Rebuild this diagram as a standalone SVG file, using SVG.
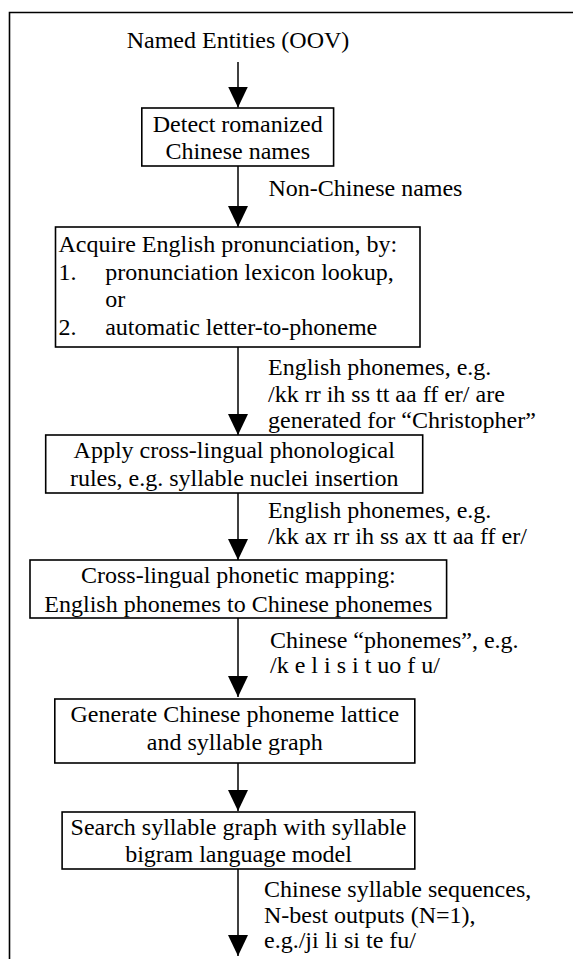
<svg xmlns="http://www.w3.org/2000/svg" width="573" height="959" viewBox="0 0 573 959">
<style>
text{font-family:"Liberation Serif","Times New Roman",serif;font-size:24px;fill:#000}
.c{text-anchor:middle}
.box{fill:#fff;stroke:#000;stroke-width:1.6}
.conn line{stroke:#000;stroke-width:1.5}
</style>
<defs>
<marker id="ah" markerUnits="userSpaceOnUse" markerWidth="21" markerHeight="20" refX="21" refY="10" orient="auto" viewBox="0 0 21 20">
<path d="M0,0 L21,10 L0,20 z" fill="#000"/>
</marker>
</defs>
<rect width="573" height="959" fill="#fff"/>
<path id="frame" d="M9.5,959 V12.5 H573" fill="none" stroke="#000" stroke-width="1.6"/>

<g class="conn">
<line x1="238" y1="62" x2="238" y2="107.5" marker-end="url(#ah)"/>
<line x1="238" y1="166" x2="238" y2="227" marker-end="url(#ah)"/>
<line x1="238" y1="347" x2="238" y2="435" marker-end="url(#ah)"/>
<line x1="238" y1="493" x2="238" y2="560" marker-end="url(#ah)"/>
<line x1="238" y1="618" x2="238" y2="697" marker-end="url(#ah)"/>
<line x1="238" y1="763" x2="238" y2="811" marker-end="url(#ah)"/>
<line x1="238" y1="869" x2="238" y2="956" marker-end="url(#ah)"/>
</g>

<g id="labels">
<text class="c" x="238" y="48">Named Entities (OOV)</text>
<text x="268.5" y="196">Non-Chinese names</text>
<text x="268" y="375">English phonemes, e.g.</text>
<text x="268" y="402">/kk rr ih ss tt aa ff er/ are</text>
<text x="268" y="428">generated for “Christopher”</text>
<text x="268" y="518">English phonemes, e.g.</text>
<text x="268" y="544">/kk ax rr ih ss ax tt aa ff er/</text>
<text x="270" y="648">Chinese “phonemes”, e.g.</text>
<text x="270" y="673">/k e l i s i t uo f u/</text>
<text x="264" y="897">Chinese syllable sequences,</text>
<text x="264" y="923">N-best outputs (N=1),</text>
<text x="264" y="948">e.g./ji li si te fu/</text>
</g>

<g id="n1">
<rect class="box" x="141.8" y="108" width="191.8" height="58"/>
<text class="c" x="237.7" y="132">Detect romanized</text>
<text class="c" x="237.7" y="159">Chinese names</text>
</g>

<g id="n2">
<rect class="box" x="55.5" y="227" width="364.5" height="120"/>
<text x="58.5" y="252">Acquire English pronunciation, by:</text>
<text x="58.5" y="280">1.</text>
<text x="105.2" y="280">pronunciation lexicon lookup,</text>
<text x="105.2" y="307">or</text>
<text x="58.5" y="335">2.</text>
<text x="105.2" y="335">automatic letter-to-phoneme</text>
</g>

<g id="n3">
<rect class="box" x="45.7" y="435" width="377" height="58"/>
<text class="c" x="234.2" y="458">Apply cross-lingual phonological</text>
<text class="c" x="234.2" y="486">rules, e.g. syllable nuclei insertion</text>
</g>

<g id="n4">
<rect class="box" x="30" y="560" width="416.6" height="58"/>
<text class="c" x="238.3" y="583">Cross-lingual phonetic mapping:</text>
<text class="c" x="238.3" y="611.5">English phonemes to Chinese phonemes</text>
</g>

<g id="n5">
<rect class="box" x="54.8" y="699" width="360" height="64"/>
<text class="c" x="234.8" y="722">Generate Chinese phoneme lattice</text>
<text class="c" x="234.8" y="750">and syllable graph</text>
</g>

<g id="n6">
<rect class="box" x="62.1" y="812" width="352.7" height="57"/>
<text class="c" x="238.5" y="835">Search syllable graph with syllable</text>
<text class="c" x="238.5" y="862">bigram language model</text>
</g>
</svg>
